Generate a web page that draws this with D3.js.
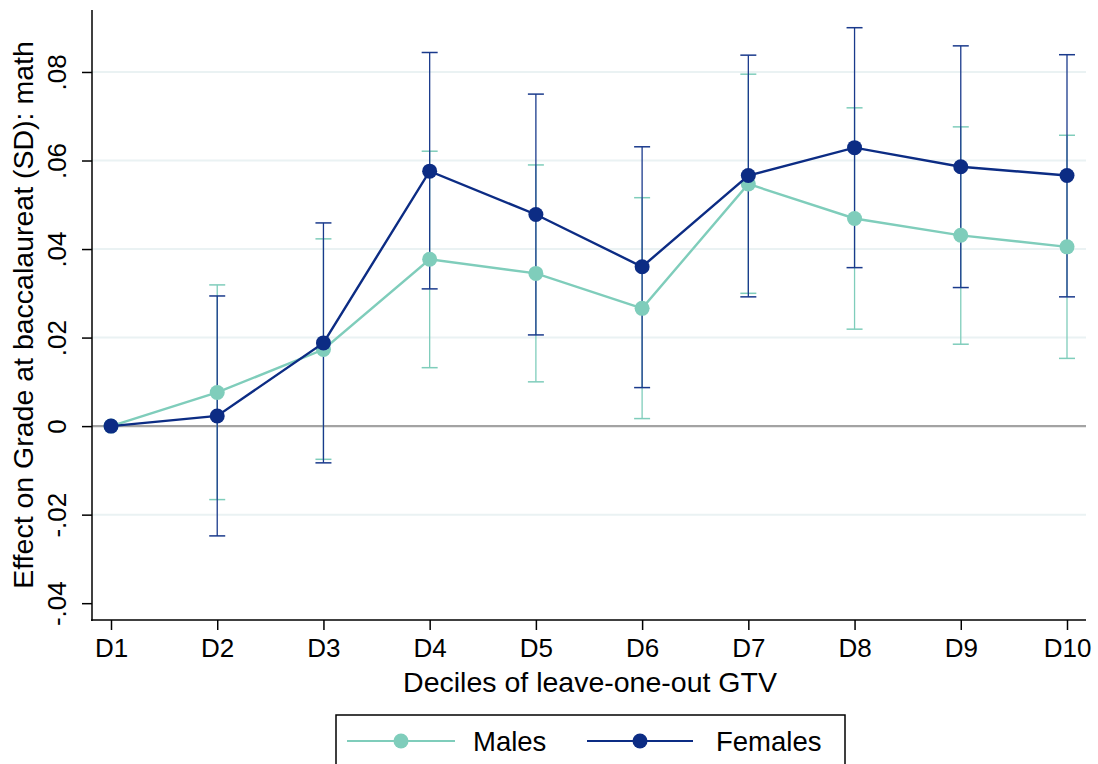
<!DOCTYPE html>
<html><head><meta charset="utf-8">
<script src="https://cdn.jsdelivr.net/npm/d3@7"></script>
<style>body{margin:0;background:#fff}svg{display:block;font-family:"Liberation Sans",Arial,sans-serif}</style>
</head><body><svg id="c" width="1098" height="764"></svg>
<script>
const categories = ["D1","D2","D3","D4","D5","D6","D7","D8","D9","D10"];
const malesEst   = [0, 0.0076, 0.0173, 0.0377, 0.0345, 0.0266, 0.0547, 0.0469, 0.0431, 0.0405];
const malesLo    = [null, -0.0166, -0.0075, 0.0132, 0.0100, 0.0017, 0.0300, 0.0219, 0.0185, 0.0153];
const malesHi    = [null, 0.0319, 0.0423, 0.0621, 0.0590, 0.0516, 0.0795, 0.0719, 0.0676, 0.0657];
const femalesEst = [0, 0.0023, 0.0188, 0.0576, 0.0478, 0.0360, 0.0566, 0.0629, 0.0586, 0.0566];
const femalesLo  = [null, -0.0248, -0.0083, 0.0310, 0.0206, 0.0087, 0.0292, 0.0358, 0.0313, 0.0292];
const femalesHi  = [null, 0.0294, 0.0459, 0.0844, 0.0750, 0.0631, 0.0838, 0.0900, 0.0859, 0.0839];
const yTicks = [-0.04, -0.02, 0, 0.02, 0.04, 0.06, 0.08];
const yTickLabels = ["-.04", "-.02", "0", ".02", ".04", ".06", ".08"];
const seriesNames = ["Males", "Females"];
const colors = ["#7fcdbb", "#0c2c84"];

const FONT = "Liberation Sans, Arial, sans-serif";
const svg = d3.select("#c");
const x = d3.scalePoint().domain(categories).range([111, 1067]);
const y = d3.scaleLinear().domain([-0.0438, 0.094]).range([620, 10]);
const plotL = 92, plotR = 1086, plotB = 620, plotT = 10;

// gridlines
svg.append("g").selectAll("line").data(yTicks.filter(t => t !== 0 && t !== -0.04)).join("line")
  .attr("x1", plotL).attr("x2", plotR).attr("y1", d => y(d)).attr("y2", d => y(d))
  .attr("stroke", "#eaf2f3").attr("stroke-width", 2);
// zero line
svg.append("line").attr("x1", plotL).attr("x2", plotR).attr("y1", y(0)).attr("y2", y(0))
  .attr("stroke", "#a3a3a3").attr("stroke-width", 2.4);

// y axis
const yAxis = d3.axisLeft(y).tickValues(yTicks).tickFormat((d, i) => yTickLabels[i]).tickSize(10).tickPadding(0);
const gy = svg.append("g").attr("transform", `translate(${plotL},0)`).call(yAxis);
gy.select(".domain").attr("d", `M0,${plotT}V${plotB + 1}`).attr("stroke", "#000").attr("stroke-width", 1.5);
gy.selectAll(".tick line").attr("stroke", "#000").attr("stroke-width", 1.5);
gy.selectAll(".tick text").attr("font-size", 26).attr("fill", "#000")
  .attr("transform", "rotate(-90)").attr("x", 0).attr("y", -26).attr("dy", 0)
  .attr("text-anchor", "middle").style("font-family", FONT);

// x axis
const xAxis = d3.axisBottom(x).tickSize(10).tickPadding(4);
const gx = svg.append("g").attr("transform", `translate(0,${plotB})`).call(xAxis);
gx.select(".domain").attr("d", `M${plotL - 1},0H${plotR}`).attr("stroke", "#000").attr("stroke-width", 1.5);
gx.selectAll(".tick line").attr("stroke", "#000").attr("stroke-width", 1.5);
gx.selectAll(".tick text").attr("font-size", 26).attr("fill", "#000").attr("y", 37).attr("dy", 0)
  .style("font-family", FONT);

// axis titles
svg.append("text").attr("transform", `translate(33,315) rotate(-90)`)
  .attr("text-anchor", "middle").attr("font-size", 28.5).text("Effect on Grade at baccalaureat (SD): math");
svg.append("text").attr("x", 590).attr("y", 692)
  .attr("text-anchor", "middle").attr("font-size", 28.5).text("Deciles of leave-one-out GTV");

// series
const series = [
  {name: seriesNames[0], est: malesEst, lo: malesLo, hi: malesHi, color: colors[0], ciColor: "#7fcdbb"},
  {name: seriesNames[1], est: femalesEst, lo: femalesLo, hi: femalesHi, color: colors[1], ciColor: "#1a3a8c"}
];
const line = d3.line().x((d, i) => x(categories[i])).y(d => y(d));
series.forEach(s => {
  const g = svg.append("g");
  const ci = categories.map((c, i) => ({c, lo: s.lo[i], hi: s.hi[i]})).filter(d => d.lo !== null);
  g.selectAll(".ci").data(ci).join("line")
    .attr("x1", d => x(d.c)).attr("x2", d => x(d.c)).attr("y1", d => y(d.lo)).attr("y2", d => y(d.hi))
    .attr("stroke", s.ciColor).attr("stroke-width", 1.3);
  ["lo", "hi"].forEach(k => {
    g.selectAll(".cap" + k).data(ci).join("line")
      .attr("x1", d => x(d.c) - 8).attr("x2", d => x(d.c) + 8).attr("y1", d => y(d[k])).attr("y2", d => y(d[k]))
      .attr("stroke", s.ciColor).attr("stroke-width", 1.5);
  });
});
series.forEach(s => {
  const g = svg.append("g");
  g.append("path").datum(s.est).attr("d", line).attr("fill", "none").attr("stroke", s.color).attr("stroke-width", 2.4);
  g.selectAll("circle").data(s.est).join("circle")
    .attr("cx", (d, i) => x(categories[i])).attr("cy", d => y(d)).attr("r", 7.5).attr("fill", s.color);
});

// legend
const lg = svg.append("g");
lg.append("rect").attr("x", 336).attr("y", 715).attr("width", 509).attr("height", 60)
  .attr("fill", "#fff").attr("stroke", "#000").attr("stroke-width", 1.5);
const legendItems = [{x0: 347, x1: 455, tx: 473}, {x0: 587, x1: 693, tx: 716}];
series.forEach((s, i) => {
  const it = legendItems[i];
  lg.append("line").attr("x1", it.x0).attr("x2", it.x1).attr("y1", 741).attr("y2", 741)
    .attr("stroke", s.color).attr("stroke-width", 2.2);
  lg.append("circle").attr("cx", (it.x0 + it.x1) / 2).attr("cy", 741).attr("r", 7.5).attr("fill", s.color);
  lg.append("text").attr("x", it.tx).attr("y", 751).attr("font-size", 27.5).text(s.name);
});
</script></body></html>
